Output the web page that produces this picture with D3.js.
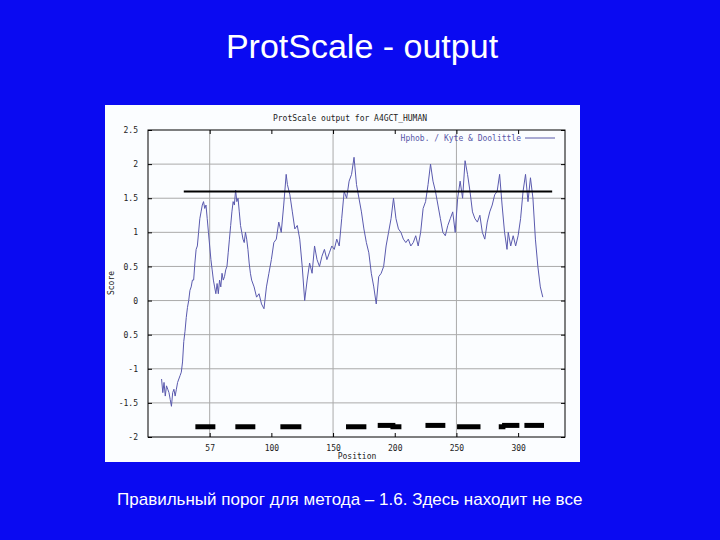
<!DOCTYPE html>
<html><head><meta charset="utf-8">
<script src="https://d3js.org/d3.v7.min.js"></script>
<style>body{margin:0;background:#0a0af2;}</style></head>
<body><svg id="c" width="720" height="540"></svg>
<script>
const positions=[11,12,13,14,15,16,17,18,19,20,21,22,23,24,25,26,27,28,29,30,31,32,33,34,35,36,37,38,39,40,41,42,43,44,45,46,47,48,49,50,51,52,53,54,55,56,57,58,59,60,61,62,63,64,65,66,67,68,69,70,71,72,73,74,75,76,77,78,79,80,81,82,83,84,86,88,90,92,94,96,98,100,102,104,106,108,110,112,113,115,117,119,121,123,125,127,129,131,133,135,137,139,141,143,145,147,149,151,153,155,157,159,161,163,165,167,169,171,173,175,177,179,181,183,185,187,189,191,193,195,197,199,201,203,205,207,209,211,213,215,217,219,221,223,225,227,229,231,233,235,237,239,241,243,245,247,249,251,253,255,257,259,261,263,265,267,269,271,273,275,277,279,281,283,285,287,289,291,292,294,296,298,300,302,304,306,308,310,312,314,316,318,320,322,324,326,328];
const scores=[-1.15,-1.35,-1.2,-1.4,-1.25,-1.3,-1.35,-1.45,-1.55,-1.35,-1.3,-1.4,-1.3,-1.2,-1.15,-1.1,-1.05,-0.9,-0.6,-0.45,-0.25,-0.1,0.0,0.15,0.2,0.3,0.3,0.55,0.75,0.8,1.0,1.2,1.3,1.4,1.45,1.35,1.4,1.2,1.0,0.8,0.6,0.45,0.3,0.2,0.1,0.25,0.1,0.3,0.2,0.4,0.3,0.35,0.45,0.5,0.7,0.9,1.1,1.3,1.45,1.4,1.62,1.45,1.5,1.3,1.1,1.0,0.9,0.85,1.0,0.9,0.75,0.55,0.4,0.3,0.2,0.05,0.1,-0.05,-0.12,0.2,0.4,0.6,0.85,0.9,1.15,1.0,1.4,1.85,1.7,1.55,1.3,1.05,1.1,0.9,0.5,0.0,0.3,0.55,0.4,0.8,0.6,0.5,0.65,0.75,0.6,0.7,0.8,0.75,0.9,0.8,1.2,1.6,1.5,1.75,1.85,2.1,1.7,1.5,1.3,1.05,0.85,0.7,0.4,0.2,-0.05,0.35,0.4,0.5,0.8,1.0,1.2,1.5,1.2,1.05,1.0,0.9,0.85,0.9,0.8,0.85,0.95,0.8,1.0,1.35,1.45,1.7,2.0,1.75,1.6,1.4,1.2,1.0,0.95,1.1,1.2,1.3,1.0,1.5,1.75,1.5,2.05,1.85,1.6,1.3,1.2,1.15,1.25,1.0,0.9,1.15,1.3,1.4,1.55,1.6,1.85,1.4,1.0,0.75,1.0,0.8,0.95,0.8,0.95,1.2,1.6,1.85,1.45,1.8,1.5,0.9,0.5,0.2,0.05];
const segs=[[38.4,54.6,-1.85],[70.8,87,-1.85],[107.3,124.3,-1.85],[160.5,177,-1.85],[186.2,200.5,-1.83],[196.5,205.4,-1.85],[224.9,241,-1.83],[250.5,269.5,-1.85],[284.3,289.7,-1.85],[287,301,-1.83],[305.1,321,-1.83]];
const yTicks=[2.5,2,1.5,1,0.5,0,-0.5,-1,-1.5,-2];
const yLabels=["2.5","2","1.5","1","0.5","0","0.5","-1","-1.5","-2"];
const xTicks=[50,100,150,200,250,300];
const threshold=[29,327.6,1.6];

const svg=d3.select("#c");
svg.append("text").attr("x",362).attr("y",58).attr("text-anchor","middle").attr("fill","#fff")
 .attr("font-family","Liberation Sans, Arial").attr("font-size",34).text("ProtScale - output");
svg.append("text").attr("x",117).attr("y",505).attr("fill","#fff")
 .attr("font-family","Liberation Sans, Arial").attr("font-size",17).text("Правильный порог для метода – 1.6. Здесь находит не все");
svg.append("rect").attr("x",105).attr("y",105).attr("width",475).attr("height",357).attr("fill","#fbfdff");
const L=148,R=565,T=130,B=437;
const x=d3.scaleLinear().domain([0,338]).range([L,R]);
const y=d3.scaleLinear().domain([-2,2.5]).range([B,T]);
const mono="DejaVu Sans Mono, monospace";
const g=svg.append("g");
g.selectAll(".gy").data(yTicks.slice(1,-1)).join("line").attr("x1",L).attr("x2",R)
 .attr("y1",d=>y(d)).attr("y2",d=>y(d)).attr("stroke","#aaa").attr("stroke-width",1);
g.selectAll(".gx").data([50,150,250]).join("line").attr("y1",T).attr("y2",B)
 .attr("x1",d=>x(d)).attr("x2",d=>x(d)).attr("stroke","#aaa").attr("stroke-width",1);
g.append("rect").attr("x",L).attr("y",T).attr("width",R-L).attr("height",B-T).attr("fill","none").attr("stroke","#000");
const ya=d3.axisLeft(y).tickValues(yTicks).tickFormat((d,i)=>yLabels[i]).tickSize(-4);
g.append("g").attr("transform",`translate(${L},0)`).call(ya).call(a=>{a.select(".domain").remove();
 a.selectAll("text").attr("font-family",mono).attr("font-size",8).attr("x",-10).attr("fill","#222");});
const yr=d3.axisRight(y).tickValues(yTicks).tickFormat("").tickSize(-4);
g.append("g").attr("transform",`translate(${R},0)`).call(yr).call(a=>a.select(".domain").remove());
const xa=d3.axisBottom(x).tickValues(xTicks).tickFormat(d=>d===50?"57":d).tickSize(-4);
g.append("g").attr("transform",`translate(0,${B})`).call(xa).call(a=>{a.select(".domain").remove();
 a.selectAll("text").attr("font-family",mono).attr("font-size",8).attr("y",8).attr("fill","#222");});
const xt=d3.axisTop(x).tickValues(xTicks).tickFormat("").tickSize(-4);
g.append("g").attr("transform",`translate(0,${T})`).call(xt).call(a=>a.select(".domain").remove());
svg.append("text").attr("x",357).attr("y",459).attr("text-anchor","middle").attr("font-family",mono).attr("font-size",8).attr("fill","#222").text("Position");
svg.append("text").attr("transform","translate(114,283) rotate(-90)").attr("text-anchor","middle").attr("font-family",mono).attr("font-size",8).attr("fill","#222").text("Score");
svg.append("text").attr("x",350).attr("y",121).attr("text-anchor","middle").attr("font-family",mono).attr("font-size",8).attr("fill","#222").text("ProtScale output for A4GCT_HUMAN");
svg.append("text").attr("x",521).attr("y",141).attr("text-anchor","end").attr("font-family",mono).attr("font-size",8).attr("fill","#5858a8").text("Hphob. / Kyte & Doolittle");
svg.append("line").attr("x1",525).attr("x2",555).attr("y1",138).attr("y2",138).attr("stroke","#5858a8");
const line=d3.line().x((d,i)=>x(positions[i])).y(d=>y(d));
svg.append("path").datum(scores).attr("d",line).attr("fill","none").attr("stroke","#5a5aae").attr("stroke-width",1);
svg.append("line").attr("x1",x(threshold[0])).attr("x2",x(threshold[1])).attr("y1",y(threshold[2])).attr("y2",y(threshold[2])).attr("stroke","#000").attr("stroke-width",2);
svg.selectAll(".seg").data(segs).join("rect").attr("x",d=>x(d[0])).attr("width",d=>x(d[1])-x(d[0]))
 .attr("y",d=>y(d[2])-2.5).attr("height",5).attr("fill","#000");
</script></body></html>
